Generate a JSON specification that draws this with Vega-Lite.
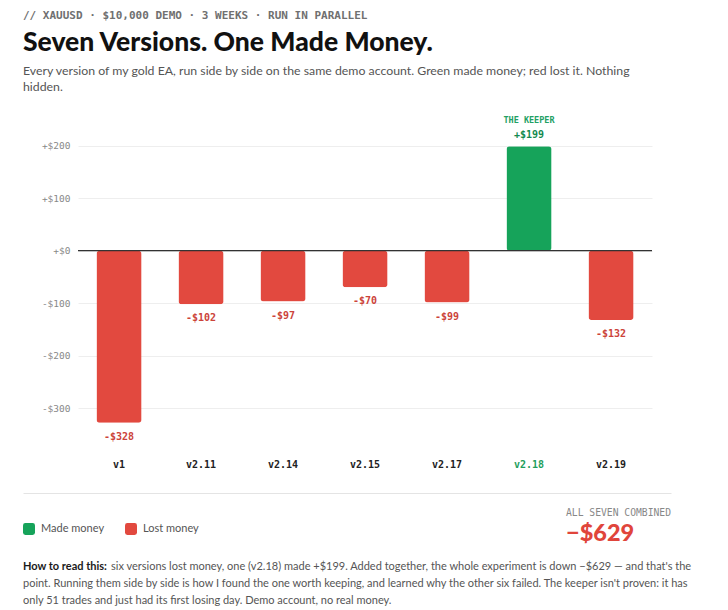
{
  "$schema": "https://vega.github.io/schema/vega-lite/v6.json",
  "background": "white",
  "padding": {"left": 23, "top": 9, "right": 0, "bottom": 5},
  "config": {
    "view": {"stroke": null},
    "locale": {"number": {"decimal": ".", "thousands": ",", "grouping": [3], "currency": ["$", ""], "minus": "-"}}
  },
  "datasets": {
    "versions": [
      {"version": "v1", "pnl": -328, "outcome": "Lost money", "note": ""},
      {"version": "v2.11", "pnl": -102, "outcome": "Lost money", "note": ""},
      {"version": "v2.14", "pnl": -97, "outcome": "Lost money", "note": ""},
      {"version": "v2.15", "pnl": -70, "outcome": "Lost money", "note": ""},
      {"version": "v2.17", "pnl": -99, "outcome": "Lost money", "note": ""},
      {"version": "v2.18", "pnl": 199, "outcome": "Made money", "note": "THE KEEPER"},
      {"version": "v2.19", "pnl": -132, "outcome": "Lost money", "note": ""}
    ]
  },
  "title": {
    "text": "// XAUUSD · $10,000 DEMO · 3 WEEKS · RUN IN PARALLEL",
    "anchor": "start",
    "font": "DejaVu Sans Mono",
    "fontSize": 11,
    "fontWeight": "bold",
    "color": "#707070",
    "offset": 9
  },
  "spacing": 15,
  "resolve": {"scale": {"color": "independent"}, "legend": {"color": "independent"}},
  "vconcat": [
    {
      "width": 574,
      "height": 341,
      "title": {
        "text": "Seven Versions. One Made Money.",
        "subtitle": [
          "Every version of my gold EA, run side by side on the same demo account. Green made money; red lost it. Nothing",
          "hidden."
        ],
        "anchor": "start",
        "frame": "bounds",
        "font": "Lato",
        "fontSize": 26.5,
        "fontWeight": 900,
        "color": "#111111",
        "subtitleFont": "Lato",
        "subtitleFontSize": 12.3,
        "subtitleColor": "#555555",
        "subtitleLineHeight": 15.5,
        "subtitlePadding": 9,
        "offset": 16
      },
      "data": {"name": "versions"},
      "layer": [
        {
          "mark": {"type": "bar", "cornerRadius": 3},
          "encoding": {
            "x": {
              "field": "version", "type": "nominal", "sort": null,
              "scale": {"paddingInner": 0.45, "paddingOuter": 0.225},
              "axis": {
                "title": null, "labelAngle": 0, "domain": false, "ticks": false,
                "labelPadding": 9, "labelFont": "DejaVu Sans Mono", "labelFontSize": 10,
                "labelFontWeight": "bold",
                "labelColor": {"condition": {"test": "datum.value === 'v2.18'", "value": "#1e9e5c"}, "value": "#222222"}
              }
            },
            "y": {
              "field": "pnl", "type": "quantitative",
              "scale": {"domain": [-380, 270], "nice": false, "zero": false},
              "axis": {
                "title": null, "values": [-300, -200, -100, 0, 100, 200], "format": "+$,.0f",
                "domain": false, "ticks": false, "grid": true, "gridColor": "#eeeeee", "gridWidth": 1,
                "labelPadding": 8, "minExtent": 55, "maxExtent": 55,
                "labelFont": "DejaVu Sans Mono", "labelFontSize": 9.5, "labelColor": "#888888"
              }
            },
            "color": {
              "field": "outcome", "type": "nominal",
              "scale": {"domain": ["Made money", "Lost money"], "range": ["#16a35a", "#e2493f"]},
              "legend": null
            }
          }
        },
        {
          "transform": [{"filter": "datum.pnl < 0"}],
          "mark": {"type": "text", "baseline": "top", "dy": 9, "font": "DejaVu Sans Mono", "fontSize": 10, "fontWeight": "bold", "color": "#cc433a"},
          "encoding": {
            "x": {"field": "version", "type": "nominal", "sort": null},
            "y": {"field": "pnl", "type": "quantitative"},
            "text": {"field": "pnl", "type": "quantitative", "format": "+$,.0f"}
          }
        },
        {
          "transform": [{"filter": "datum.pnl > 0"}],
          "mark": {"type": "text", "baseline": "bottom", "dy": -6, "font": "DejaVu Sans Mono", "fontSize": 10, "fontWeight": "bold", "color": "#138a4f"},
          "encoding": {
            "x": {"field": "version", "type": "nominal", "sort": null},
            "y": {"field": "pnl", "type": "quantitative"},
            "text": {"field": "pnl", "type": "quantitative", "format": "+$,.0f"}
          }
        },
        {
          "transform": [{"filter": "datum.note != ''"}],
          "mark": {"type": "text", "baseline": "bottom", "dy": -21, "font": "DejaVu Sans Mono", "fontSize": 8.5, "fontWeight": "bold", "color": "#22a064"},
          "encoding": {
            "x": {"field": "version", "type": "nominal", "sort": null},
            "y": {"field": "pnl", "type": "quantitative"},
            "text": {"field": "note", "type": "nominal"}
          }
        },
        {
          "data": {"values": [{"level": 0}]},
          "mark": {"type": "rule", "color": "#333333", "strokeWidth": 1.3},
          "encoding": {"y": {"field": "level", "type": "quantitative"}}
        }
      ]
    },
    {
      "width": 648,
      "height": 9,
      "data": {"name": "versions"},
      "mark": {"type": "point", "opacity": 0},
      "encoding": {
        "x": {
          "field": "pnl", "type": "quantitative",
          "axis": {"orient": "bottom", "position": -55, "domain": true, "domainColor": "#e4e4e4", "domainWidth": 1, "labels": false, "ticks": false, "grid": false, "title": null}
        }
      }
    },
    {
      "width": 593,
      "height": 36,
      "title": {
        "text": "ALL SEVEN COMBINED",
        "subtitle": "−$629",
        "orient": "bottom",
        "anchor": "end",
        "frame": "group",
        "align": "left",
        "dx": -105,
        "offset": -36,
        "font": "DejaVu Sans Mono",
        "fontSize": 9.7,
        "fontWeight": "normal",
        "color": "#888888",
        "subtitleFont": "Lato",
        "subtitleFontSize": 23.5,
        "subtitleFontWeight": 900,
        "subtitleColor": "#e0453b",
        "subtitlePadding": 4
      },
      "data": {"name": "versions"},
      "mark": {"type": "bar", "opacity": 0},
      "encoding": {
        "color": {
          "field": "outcome", "type": "nominal",
          "scale": {"domain": ["Made money", "Lost money"], "range": ["#16a35a", "#e2493f"]},
          "legend": {
            "orient": "none", "legendX": -55, "legendY": 15, "direction": "horizontal", "title": null,
            "symbolType": "M-0.6,-1L0.6,-1Q1,-1 1,-0.6L1,0.6Q1,1 0.6,1L-0.6,1Q-1,1 -1,0.6L-1,-0.6Q-1,-1 -0.6,-1Z",
            "symbolSize": 144, "symbolOpacity": 1, "symbolStrokeWidth": 0,
            "labelFont": "Lato", "labelFontSize": 11, "labelColor": "#555555",
            "columnPadding": 20, "labelOffset": 6, "padding": 0
          }
        }
      }
    },
    {
      "width": 593,
      "height": 1,
      "title": {
        "text": "How to read this:",
        "subtitle": [
          "\u200b\u2003\u2003\u2003\u2003\u2003\u2003\u2003\u2003\u2003\u2003\u2002six versions lost money, one (v2.18) made +$199. Added together, the whole experiment is down −$629 — and that's the",
          "point. Running them side by side is how I found the one worth keeping, and learned why the other six failed. The keeper isn't proven: it has",
          "only 51 trades and just had its first losing day. Demo account, no real money."
        ],
        "anchor": "start",
        "frame": "group",
        "dx": -55,
        "font": "Lato",
        "fontSize": 11,
        "fontWeight": "bold",
        "color": "#1a1a1a",
        "subtitleFont": "Lato",
        "subtitleFontSize": 11,
        "subtitleColor": "#555555",
        "subtitleLineHeight": 17,
        "subtitlePadding": -11,
        "offset": 7
      },
      "data": {"name": "versions"},
      "mark": {"type": "bar", "opacity": 0},
      "encoding": {}
    }
  ]
}
